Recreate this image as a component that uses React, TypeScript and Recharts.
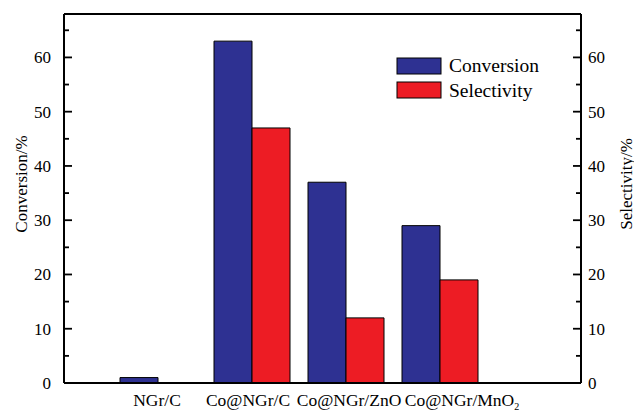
import React from "react";
import { BarChart, Bar, XAxis, YAxis, ReferenceLine } from "recharts";

const categories = ["NGr/C", "Co@NGr/C", "Co@NGr/ZnO", "Co@NGr/MnO2"];
const conversion = [1, 63, 37, 29];
const selectivity = [0, 47, 12, 19];
const yTicks = [0, 5, 10, 15, 20, 25, 30, 35, 40, 45, 50, 55, 60, 65];
const Y_MAX = 68;

const data = categories.map((name, i) => ({
  name,
  conversion: conversion[i],
  selectivity: selectivity[i],
}));

const FONT = "'Liberation Serif', 'Times New Roman', serif";
const BLUE = "#2E3192";
const RED = "#ED1C24";
const PLOT_LEFT = 64;
const PLOT_RIGHT = 581;
const labelDx = [-1, -4, 3, 22];

const LeftTick = (props: any) => {
  const { y, payload } = props;
  const v = payload.value;
  const major = v % 10 === 0;
  return (
    <g>
      <path d={`M${PLOT_LEFT},${y}H${PLOT_LEFT + (major ? 8 : 5)}`} stroke="#000" strokeWidth={1.8} fill="none" />
      {major && (
        <text x={51} y={y} dy="0.35em" textAnchor="end" fontFamily={FONT} fontSize={17} fill="#000">
          {v}
        </text>
      )}
    </g>
  );
};

const RightTick = (props: any) => {
  const { y, payload } = props;
  const v = payload.value;
  const major = v % 10 === 0;
  return (
    <g>
      <path d={`M${PLOT_RIGHT},${y}H${PLOT_RIGHT - (major ? 8 : 5)}`} stroke="#000" strokeWidth={1.8} fill="none" />
      {major && (
        <text x={588} y={y} dy="0.35em" textAnchor="start" fontFamily={FONT} fontSize={17} fill="#000">
          {v}
        </text>
      )}
    </g>
  );
};

const XTick = (props: any) => {
  const { x, payload, index } = props;
  const label: string = payload.value;
  const cx = x + (labelDx[index] || 0);
  if (label.endsWith("O2")) {
    return (
      <text x={cx} y={406} textAnchor="middle" fontFamily={FONT} fontSize={17.5} fill="#000">
        <tspan>{label.slice(0, -1)}</tspan>
        <tspan fontSize={10} dy={4}>{label.slice(-1)}</tspan>
      </text>
    );
  }
  return (
    <text x={cx} y={406} textAnchor="middle" fontFamily={FONT} fontSize={17.5} fill="#000">
      {label}
    </text>
  );
};

export default function App() {
  return (
    <div style={{ position: "absolute", left: 0, top: 0, width: 634, height: 412, background: "#fff" }}>
      <BarChart
        width={634}
        height={412}
        data={data}
        margin={{ top: 14, right: 0, bottom: 0, left: 0 }}
        barGap={0}
      >
        <XAxis
          dataKey="name"
          height={29}
          padding={{ left: 47, right: 94 }}
          axisLine={{ stroke: "#000", strokeWidth: 2 }}
          tickLine={false}
          tick={<XTick />}
          interval={0}
        />
        <YAxis
          yAxisId="left"
          width={64}
          domain={[0, Y_MAX]}
          ticks={yTicks}
          interval={0}
          allowDataOverflow
          axisLine={{ stroke: "#000", strokeWidth: 2 }}
          tickLine={false}
          tick={<LeftTick />}
          label={{
            value: "Conversion/%",
            content: () => (
              <text
                x={21}
                y={184}
                transform="rotate(-90 21 184)"
                textAnchor="middle"
                dominantBaseline="central"
                fontFamily={FONT}
                fontSize={17}
                fill="#000"
              >
                Conversion/%
              </text>
            ),
          }}
        />
        <YAxis
          yAxisId="right"
          orientation="right"
          width={53}
          domain={[0, Y_MAX]}
          ticks={yTicks}
          interval={0}
          allowDataOverflow
          axisLine={{ stroke: "#000", strokeWidth: 2 }}
          tickLine={false}
          tick={<RightTick />}
          label={{
            value: "Selectivity/%",
            content: () => (
              <text
                x={626}
                y={184}
                transform="rotate(-90 626 184)"
                textAnchor="middle"
                dominantBaseline="central"
                fontFamily={FONT}
                fontSize={17}
                fill="#000"
              >
                Selectivity/%
              </text>
            ),
          }}
        />
        <ReferenceLine yAxisId="left" y={Y_MAX} stroke="#000" strokeWidth={2} />
        <Bar
          yAxisId="left"
          dataKey="conversion"
          name="Conversion"
          fill={BLUE}
          stroke="#000"
          strokeWidth={1}
          barSize={38}
          isAnimationActive={false}
        />
        <Bar
          yAxisId="right"
          dataKey="selectivity"
          name="Selectivity"
          fill={RED}
          stroke="#000"
          strokeWidth={1}
          barSize={38}
          isAnimationActive={false}
        />
      </BarChart>
      <svg
        width={170}
        height={46}
        style={{ position: "absolute", left: 396, top: 56, display: "block" }}
      >
        <rect x={1} y={2} width={44} height={16} fill={BLUE} stroke="#000" strokeWidth={1} />
        <text x={53} y={16} fontFamily={FONT} fontSize={19.5} fill="#000">Conversion</text>
        <rect x={1} y={26} width={44} height={16} fill={RED} stroke="#000" strokeWidth={1} />
        <text x={53} y={41} fontFamily={FONT} fontSize={19.5} fill="#000">Selectivity</text>
      </svg>
    </div>
  );
}
